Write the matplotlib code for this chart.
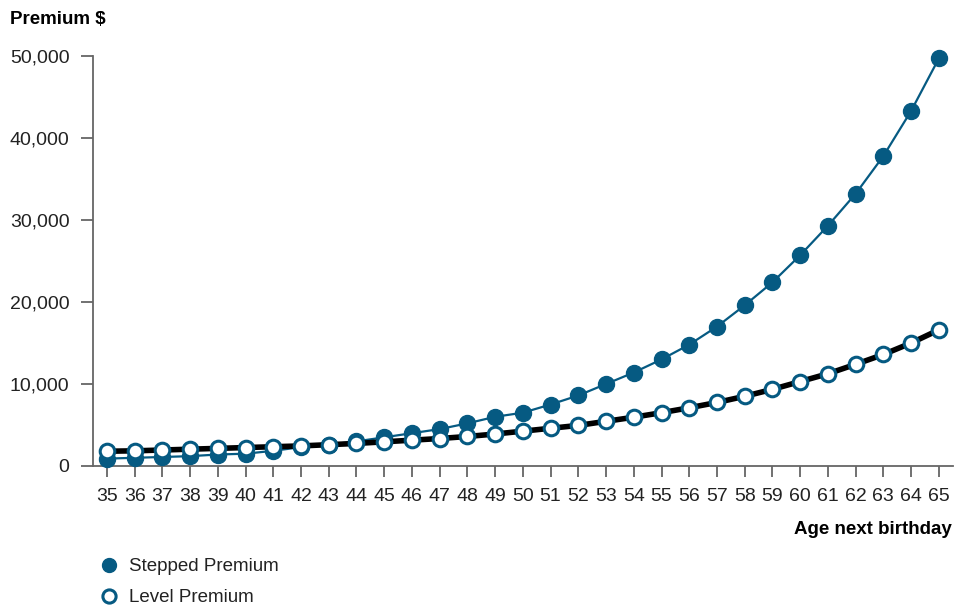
import matplotlib
matplotlib.use("Agg")
import matplotlib.pyplot as plt
from matplotlib.lines import Line2D

plt.rcParams['font.family'] = ['Liberation Sans', 'DejaVu Sans']

ages = list(range(35, 66))
stepped = [900, 1000, 1100, 1200, 1400, 1500, 1850, 2300, 2600, 3000,
           3500, 4000, 4500, 5200, 6000, 6500, 7500, 8600, 10000, 11400,
           13000, 14800, 17000, 19600, 22400, 25700, 29300, 33200, 37800,
           43300, 49700]
level = [1800, 1850, 1950, 2050, 2150, 2250, 2350, 2450, 2600, 2750,
         2950, 3150, 3350, 3600, 3900, 4250, 4600, 4950, 5450, 5950,
         6500, 7100, 7750, 8500, 9350, 10300, 11250, 12400, 13600,
         15000, 16600]
yticks = [0, 10000, 20000, 30000, 40000, 50000]
ytick_labels = ["0", "10,000", "20,000", "30,000", "40,000", "50,000"]

blue = "#065a82"
spine_c = "#666666"
text_c = "#222222"

fig = plt.figure(figsize=(9.68, 6.06), dpi=100)
ax = fig.add_axes([93/968, 1-466/606, (952.7-93)/968, (466-56)/606])

ax.plot(ages, stepped, color=blue, lw=1.6, marker='o', ms=11.5,
        mfc=blue, mec=blue, zorder=3, clip_on=False)
ax.plot(ages, level, color='black', lw=4, zorder=4, clip_on=False,
        solid_capstyle='butt')
ax.plot(ages, level, linestyle='none', marker='o', ms=10.5, mfc='white',
        mec=blue, mew=2.2, zorder=5, clip_on=False)

ax.set_xlim(34.5, 65.5)
ax.set_ylim(0, 50000)
ax.set_xticks(ages)
ax.set_xticklabels([str(a) for a in ages])
ax.set_yticks(yticks)
ax.set_yticklabels(ytick_labels)

for s in ['top', 'right']:
    ax.spines[s].set_visible(False)
for s in ['left', 'bottom']:
    ax.spines[s].set_color(spine_c)
    ax.spines[s].set_linewidth(1.3)

ax.tick_params(axis='y', length=9, width=1.3, color=spine_c, pad=8,
               labelsize=14, labelcolor=text_c)
ax.tick_params(axis='x', length=8, width=1.3, color=spine_c, pad=8,
               labelsize=14, labelcolor=text_c)

fig.text(10/968, 1-20/606, "Premium $", fontsize=13.5, fontweight='bold',
         color='black', ha='left', va='center')
fig.text(952/968, 1-530/606, "Age next birthday", fontsize=13.5,
         fontweight='bold', color='black', ha='right', va='center')

handles = [
    Line2D([], [], linestyle='none', marker='o', ms=10, mfc=blue, mec=blue),
    Line2D([], [], linestyle='none', marker='o', ms=9.5, mfc='white',
           mec=blue, mew=2.2),
]
fig.legend(handles, ["Stepped Premium", "Level Premium"],
           loc='upper left', bbox_to_anchor=(98/968, 1-558/606),
           frameon=False, fontsize=13.5, labelcolor=text_c,
           handletextpad=0.45, labelspacing=0.75, handlelength=1.2,
           borderaxespad=0, borderpad=0)

fig.savefig("out.png", dpi=100)
